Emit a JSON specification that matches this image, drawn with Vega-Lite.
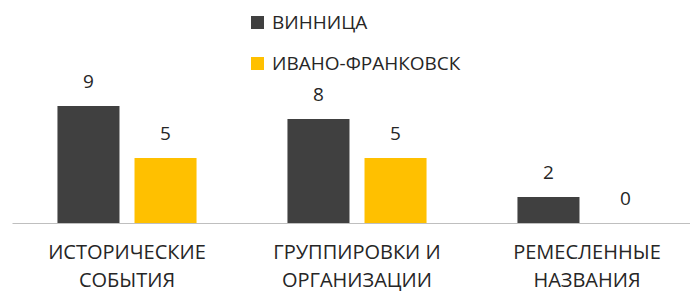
{
  "$schema": "https://vega.github.io/schema/vega-lite/v6.json",
  "autosize": "none",
  "width": 690,
  "height": 130,
  "padding": {"top": 93, "left": 12, "right": 0, "bottom": 68},
  "background": "white",
  "config": {
    "view": {"stroke": null},
    "font": "Open Sans"
  },
  "data": {
    "values": [
      {"category": "ИСТОРИЧЕСКИЕ СОБЫТИЯ", "city": "ВИННИЦА", "value": 9},
      {"category": "ИСТОРИЧЕСКИЕ СОБЫТИЯ", "city": "ИВАНО-ФРАНКОВСК", "value": 5},
      {"category": "ГРУППИРОВКИ И ОРГАНИЗАЦИИ", "city": "ВИННИЦА", "value": 8},
      {"category": "ГРУППИРОВКИ И ОРГАНИЗАЦИИ", "city": "ИВАНО-ФРАНКОВСК", "value": 5},
      {"category": "РЕМЕСЛЕННЫЕ НАЗВАНИЯ", "city": "ВИННИЦА", "value": 2},
      {"category": "РЕМЕСЛЕННЫЕ НАЗВАНИЯ", "city": "ИВАНО-ФРАНКОВСК", "value": 0}
    ]
  },
  "encoding": {
    "x": {
      "field": "category",
      "type": "nominal",
      "sort": null,
      "scale": {"paddingInner": 0, "paddingOuter": 0},
      "axis": {
        "title": null,
        "labelAngle": 0,
        "ticks": false,
        "domainColor": "#BFBFBF",
        "domainWidth": 1,
        "labelFont": "Open Sans",
        "labelFontSize": 20,
        "labelColor": "#262626",
        "labelPadding": 19,
        "labelLineHeight": 28,
        "labelExpr": "datum.value == 'ГРУППИРОВКИ И ОРГАНИЗАЦИИ' ? ['ГРУППИРОВКИ И', 'ОРГАНИЗАЦИИ'] : split(datum.value, ' ')"
      }
    },
    "xOffset": {
      "field": "city",
      "type": "nominal",
      "sort": null,
      "scale": {"paddingInner": 0.195, "paddingOuter": 0.59}
    },
    "y": {
      "field": "value",
      "type": "quantitative",
      "scale": {"domain": [0, 10]},
      "axis": null
    }
  },
  "layer": [
    {
      "mark": {"type": "bar"},
      "encoding": {
        "color": {
          "field": "city",
          "type": "nominal",
          "sort": null,
          "scale": {"domain": ["ВИННИЦА", "ИВАНО-ФРАНКОВСК"], "range": ["#404040", "#FFC000"]},
          "legend": {
            "title": null,
            "orient": "none",
            "legendX": 236,
            "legendY": -80,
            "direction": "vertical",
            "symbolType": "square",
            "symbolSize": 170,
            "symbolStrokeWidth": 0,
            "labelFont": "Open Sans",
            "labelFontSize": 19,
            "labelColor": "#262626",
            "labelOffset": 5,
            "rowPadding": 21,
            "labelLimit": 400
          }
        }
      }
    },
    {
      "mark": {"type": "text", "dy": -14, "baseline": "bottom", "font": "Open Sans", "fontSize": 19, "color": "#262626"},
      "encoding": {
        "text": {"field": "value", "type": "quantitative"}
      }
    }
  ]
}
